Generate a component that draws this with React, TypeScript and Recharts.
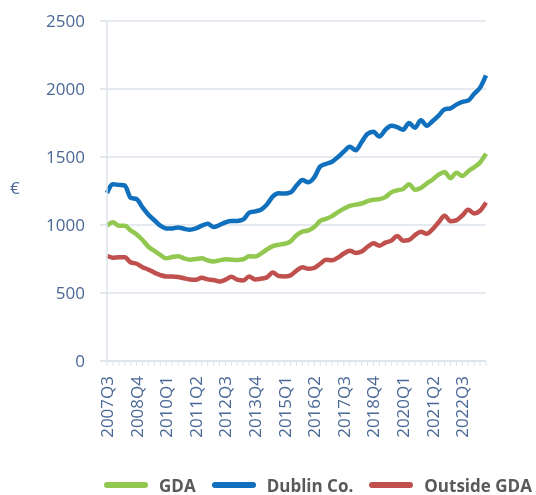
import { LineChart, Line, XAxis, YAxis, CartesianGrid, Legend } from "recharts";

const QUARTERS = [
  "2007Q3", "2007Q4", "2008Q1", "2008Q2", "2008Q3", "2008Q4", "2009Q1", "2009Q2", "2009Q3", "2009Q4",
  "2010Q1", "2010Q2", "2010Q3", "2010Q4", "2011Q1", "2011Q2", "2011Q3", "2011Q4", "2012Q1", "2012Q2",
  "2012Q3", "2012Q4", "2013Q1", "2013Q2", "2013Q3", "2013Q4", "2014Q1", "2014Q2", "2014Q3", "2014Q4",
  "2015Q1", "2015Q2", "2015Q3", "2015Q4", "2016Q1", "2016Q2", "2016Q3", "2016Q4", "2017Q1", "2017Q2",
  "2017Q3", "2017Q4", "2018Q1", "2018Q2", "2018Q3", "2018Q4", "2019Q1", "2019Q2", "2019Q3", "2019Q4",
  "2020Q1", "2020Q2", "2020Q3", "2020Q4", "2021Q1", "2021Q2", "2021Q3", "2021Q4", "2022Q1", "2022Q2",
  "2022Q3", "2022Q4", "2023Q1", "2023Q2", "2023Q3",
];

const GDA = [
  995, 1020, 995, 995, 960, 930, 890, 840, 810, 780,
  755, 765, 770, 755, 745, 750, 755, 740, 732, 740,
  748, 745, 743, 748, 770, 768, 790, 820, 845, 855,
  862, 880, 925, 952, 960, 985, 1030, 1045, 1065, 1095,
  1120, 1140, 1150, 1158, 1175, 1185, 1190, 1205, 1240, 1255,
  1265, 1300, 1260, 1272, 1305, 1335, 1370, 1390, 1345, 1385,
  1360, 1395, 1425, 1460, 1525,
];

const DUBLIN = [
  1235, 1300, 1295, 1290, 1200, 1190, 1130, 1075, 1035, 995,
  975, 975, 982, 972, 965, 975, 995, 1010, 985, 1000,
  1020, 1030, 1030, 1040, 1090, 1100, 1112, 1150, 1210, 1233,
  1232, 1240, 1290, 1330, 1315, 1350, 1430, 1450, 1465, 1500,
  1540, 1575, 1550, 1610, 1670, 1685, 1650, 1700, 1730, 1720,
  1700, 1750, 1715, 1770, 1730, 1765, 1805, 1850, 1858, 1885,
  1905, 1915, 1965, 2010, 2100,
];

const OUTSIDE = [
  772, 760, 762, 762, 725, 715, 690, 672, 650, 632,
  622, 622, 618, 608, 600, 598, 612, 600, 595, 585,
  598, 620, 598, 592, 622, 600, 605, 615, 650, 625,
  622, 630, 665, 690, 678, 685, 715, 745, 740, 760,
  790, 810, 795, 805, 840, 865, 848, 870, 885, 920,
  885, 890, 925, 950, 935, 970, 1020, 1068, 1028, 1035,
  1070, 1112, 1085, 1105, 1165,
];

const Y_TICKS = [0, 500, 1000, 1500, 2000, 2500];

const SERIES = [
  { key: "gda", name: "GDA", color: "#92c850" },
  { key: "dublin", name: "Dublin Co.", color: "#1170bd" },
  { key: "outside", name: "Outside GDA", color: "#c0504d" },
];

const data = QUARTERS.map((q, i) => ({
  q,
  gda: GDA[i],
  dublin: DUBLIN[i],
  outside: OUTSIDE[i],
}));

const FONT = "'Open Sans', sans-serif";
const AXIS_TEXT = "#4a6896";
const GRID = "#dde3eb";

function QuarterTick({ x, y, payload, index }: any) {
  if (index % 5 !== 0) return null;
  return (
    <text
      x={x}
      y={y + 8}
      transform={`rotate(-90, ${x}, ${y + 8})`}
      textAnchor="end"
      dy="0.35em"
      fontSize={17}
      fontFamily={FONT}
      fill={AXIS_TEXT}
    >
      {payload.value}
    </text>
  );
}

function LegendContent() {
  return (
    <div style={{ display: "flex", alignItems: "center", height: 20, fontFamily: FONT }}>
      {SERIES.map((s) => (
        <div key={s.key} style={{ display: "flex", alignItems: "center", marginRight: 16 }}>
          <svg width={44} height={8} style={{ marginRight: 11 }}>
            <line x1={3} y1={4} x2={41} y2={4} stroke={s.color} strokeWidth={6} strokeLinecap="round" />
          </svg>
          <span style={{ fontSize: 17, fontWeight: 700, color: "#595959" }}>{s.name}</span>
        </div>
      ))}
    </div>
  );
}

export default function App() {
  return (
    <div style={{ position: "fixed", left: 0, top: 0 }}>
      <LineChart width={536} height={495} data={data} margin={{ top: 21, right: 50, bottom: 0, left: 0 }}>
        <CartesianGrid vertical={false} stroke={GRID} strokeWidth={1.5} />
        <XAxis
          dataKey="q"
          interval={0}
          tick={<QuarterTick />}
          tickSize={5}
          height={114}
          axisLine={{ stroke: GRID, strokeWidth: 1.5 }}
          tickLine={{ stroke: GRID }}
        />
        <YAxis
          domain={[0, 2500]}
          ticks={Y_TICKS}
          width={107}
          tickSize={7}
          tickMargin={15}
          axisLine={{ stroke: GRID, strokeWidth: 1.5 }}
          tickLine={{ stroke: GRID, strokeWidth: 1.5 }}
          tick={{ fontSize: 17, fontFamily: FONT, fill: AXIS_TEXT }}
          label={{ value: "€", position: "insideLeft", offset: 10, dy: -3, fontSize: 17, fontFamily: FONT, fill: AXIS_TEXT }}
        />
        <Legend
          verticalAlign="bottom"
          align="left"
          height={20}
          wrapperStyle={{ left: 104 }}
          content={<LegendContent />}
        />
        {SERIES.map((s) => (
          <Line
            key={s.key}
            dataKey={s.key}
            name={s.name}
            stroke={s.color}
            strokeWidth={4.5}
            dot={false}
            type="monotone"
            strokeLinejoin="round"
            isAnimationActive={false}
          />
        ))}
      </LineChart>
    </div>
  );
}
